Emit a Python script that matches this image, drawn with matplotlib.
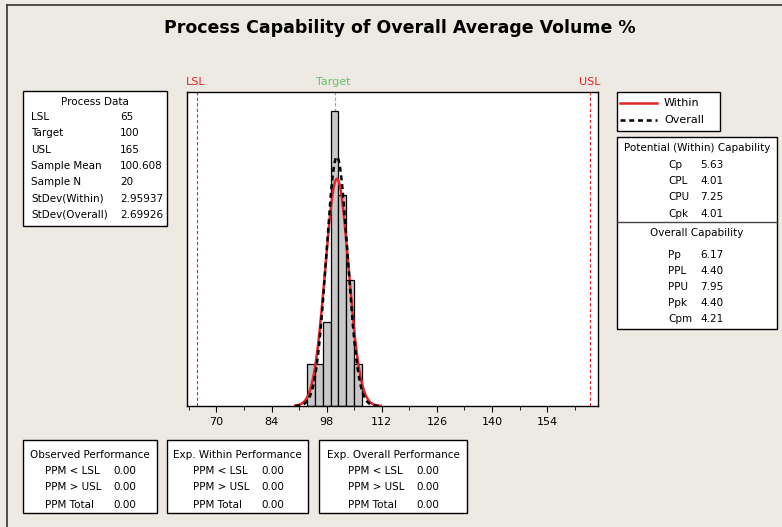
import numpy as np
import matplotlib
matplotlib.use('Agg')
import matplotlib.pyplot as plt
from matplotlib.patches import Rectangle
from matplotlib.lines import Line2D

# data
bin_edges = [93, 95, 97, 99, 101, 103, 105, 107]
counts = [1, 1, 2, 7, 5, 3, 1]
lsl, target, usl = 65, 100, 165
mean = 100.608
n = 20
sd_within = 2.95937
sd_overall = 2.69926
xticks = [70, 84, 98, 112, 126, 140, 154]

process_labels = ['LSL', 'Target', 'USL', 'Sample Mean', 'Sample N', 'StDev(Within)', 'StDev(Overall)']
process_values = ['65', '100', '165', '100.608', '20', '2.95937', '2.69926']
within_labels = ['Cp', 'CPL', 'CPU', 'Cpk']
within_values = ['5.63', '4.01', '7.25', '4.01']
overall_labels = ['Pp', 'PPL', 'PPU', 'Ppk', 'Cpm']
overall_values = ['6.17', '4.40', '7.95', '4.40', '4.21']
perf_titles = ['Observed Performance', 'Exp. Within Performance', 'Exp. Overall Performance']
perf_labels = ['PPM < LSL', 'PPM > USL', 'PPM Total']
perf_values = [['0.00', '0.00', '0.00'], ['0.00', '0.00', '0.00'], ['0.00', '0.00', '0.00']]

W, H = 782, 527
bg = '#EDE9E3'
red = '#E0262B'
green = '#6DBE6D'
plt.rcParams['font.family'] = ['DejaVu Sans']

fig = plt.figure(figsize=(W / 100, H / 100), dpi=100, facecolor=bg)


def fx(x):
    return x / W


def fy(y):
    return 1 - y / H


def txt(x, y, s, size=7.5, ha='left', **kw):
    fig.text(fx(x), fy(y), s, ha=ha, va='center', fontsize=size, **kw)


def box(x0, y0, x1, y1):
    fig.patches.append(Rectangle((fx(x0), fy(y1)), fx(x1) - fx(x0), fy(y0) - fy(y1),
                                 transform=fig.transFigure, facecolor='white',
                                 edgecolor='black', lw=1, zorder=1))


# frame line on top and left
fig.add_artist(Line2D([fx(7), 1], [fy(5), fy(5)], color='#333333', lw=1.2))
fig.add_artist(Line2D([fx(7), fx(7)], [fy(5), 0], color='#333333', lw=1.2))

# title
txt(400, 28, 'Process Capability of Overall Average Volume %', size=12.5, ha='center', weight='bold')

# main axes
ax = fig.add_axes([fx(187.3), fy(406), fx(598.3) - fx(187.3), fy(92) - fy(406)])
ax.set_facecolor('white')
widths = np.diff(bin_edges)
ax.bar(bin_edges[:-1], counts, width=widths, align='edge', color='#C8C8C8',
       edgecolor='black', lw=0.9, zorder=2)

xs = np.linspace(90.0, 111.8, 300)
scale = n * widths[0]
pdf_w = scale * np.exp(-0.5 * ((xs - mean) / sd_within) ** 2) / (sd_within * np.sqrt(2 * np.pi))
pdf_o = scale * np.exp(-0.5 * ((xs - mean) / sd_overall) ** 2) / (sd_overall * np.sqrt(2 * np.pi))
ax.plot(xs, pdf_w, color=red, lw=1.8, zorder=3)
ax.plot(xs, pdf_o, color='black', lw=1.8, ls=(0, (2, 1.5)), zorder=4)

ax.axvline(lsl, color=red, ls=(0, (3, 2)), lw=0.8, zorder=1)
ax.axvline(usl, color=red, ls=(0, (3, 2)), lw=0.8, zorder=1)
ax.axvline(target, color=green, ls=(0, (3, 2)), lw=0.8, zorder=1)

ax.set_xlim(62.6, 167.0)
ax.set_ylim(0, 7.45)
ax.set_yticks([])
ax.set_xticks(xticks)
ax.set_xticks(np.arange(63, 168, 14), minor=True)
ax.tick_params(axis='x', which='major', length=4, labelsize=8, pad=4)
ax.tick_params(axis='x', which='minor', length=3)
for s in ax.spines.values():
    s.set_linewidth(1)

# spec labels above the axes
txt(195.5, 82, 'LSL', size=8, ha='center', color=red)
txt(333, 82, 'Target', size=8, ha='center', color=green)
txt(590, 82, 'USL', size=8, ha='center', color=red)

# process data box
box(23, 91, 167, 226)
txt(95, 102, 'Process Data', ha='center')
for i, (lab, val) in enumerate(zip(process_labels, process_values)):
    y = 117 + i * 16.3
    txt(31, y, lab)
    txt(120, y, val)

# legend box
box(617, 92, 720, 131)
fig.add_artist(Line2D([fx(620), fx(657)], [fy(103), fy(103)], color=red, lw=1.8))
fig.add_artist(Line2D([fx(620), fx(657)], [fy(120), fy(120)], color='black', lw=1.8, ls=(0, (2, 1.5))))
txt(664, 103, 'Within', size=8)
txt(664, 120, 'Overall', size=8)

# capability box
box(617, 137, 777, 329)
fig.add_artist(Line2D([fx(617), fx(777)], [fy(222), fy(222)], color='#444444', lw=1))
txt(697, 148, 'Potential (Within) Capability', ha='center')
for i, (lab, val) in enumerate(zip(within_labels, within_values)):
    y = 164.5 + i * 16.5
    txt(668, y, lab)
    txt(700, y, val)
txt(697, 233, 'Overall Capability', ha='center')
for i, (lab, val) in enumerate(zip(overall_labels, overall_values)):
    y = 254.5 + i * 16.2
    txt(668, y, lab)
    txt(700, y, val)

# performance boxes
perf_boxes = [(23, 157, 45, 113), (167, 308, 193, 261), (319, 467, 348, 416)]
for (x0, x1, xl, xv), title, vals in zip(perf_boxes, perf_titles, perf_values):
    box(x0, 440, x1, 513)
    txt((x0 + x1) / 2, 455, title, ha='center')
    for i, (lab, val) in enumerate(zip(perf_labels, vals)):
        y = 470.5 + i * 17
        txt(xl, y, lab)
        txt(xv, y, val)

fig.savefig('out.png', dpi=100, facecolor=bg)
